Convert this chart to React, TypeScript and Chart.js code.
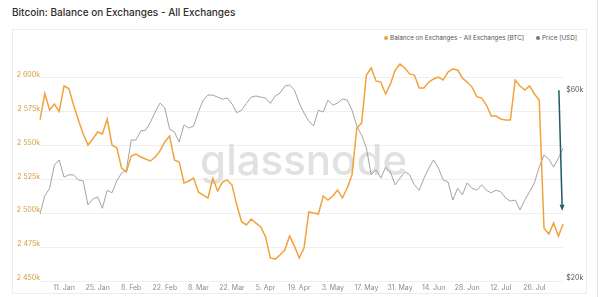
import React, { useEffect, useRef } from 'react';
import { Chart, registerables } from 'chart.js';

Chart.register(...registerables);

const FONT = "Inter, 'Noto Sans', Roboto, sans-serif";

const TITLE = 'Bitcoin: Balance on Exchanges - All Exchanges';
const SERIES_BALANCE = 'Balance on Exchanges - All Exchanges [BTC]';
const SERIES_PRICE = 'Price [USD]';
const WATERMARK = 'glassnode';

// samples every 2 days starting 2021-01-01
const START_YEAR = 2021;
const STEP_DAYS = 2;

const TICK_LABELS = [
  '11. Jan', '25. Jan', '8. Feb', '22. Feb', '8. Mar', '22. Mar', '5. Apr', '19. Apr',
  '3. May', '17. May', '31. May', '14. Jun', '28. Jun', '12. Jul', '26. Jul',
];
const FIRST_TICK_INDEX = 5;
const TICK_EVERY = 7;

// Balance on exchanges, thousands of BTC
const BALANCE_K = [
  2569.0, 2588.5, 2576.4, 2580.8, 2575.2, 2594.1, 2592.2, 2580.0, 2569.0, 2558.6,
  2550.5, 2554.9, 2560.1, 2558.6, 2569.7, 2550.5, 2548.3, 2533.5, 2530.5, 2542.4,
  2543.8, 2541.6, 2540.1, 2538.7, 2541.6, 2546.1, 2552.7, 2557.1, 2539.4, 2537.9,
  2522.4, 2523.9, 2526.1, 2515.8, 2513.5, 2511.3, 2525.9, 2516.5, 2523.1, 2524.6,
  2520.9, 2506.1, 2493.8, 2491.4, 2495.8, 2492.8, 2489.9, 2482.5, 2467.0, 2466.2,
  2469.2, 2472.9, 2483.2, 2475.8, 2467.0, 2474.4, 2501.0, 2500.2, 2499.5, 2512.8,
  2509.8, 2512.8, 2517.2, 2511.3, 2518.7, 2528.3, 2563.0, 2566.7, 2602.2, 2607.4,
  2597.8, 2597.0, 2588.2, 2595.6, 2605.9, 2610.3, 2607.4, 2603.0, 2602.2, 2592.6,
  2592.6, 2597.0, 2599.3, 2600.7, 2598.5, 2604.4, 2606.7, 2605.9, 2600.0, 2597.0,
  2593.3, 2586.2, 2585.2, 2580.0, 2571.9, 2571.9, 2569.7, 2569.0, 2569.0, 2598.5,
  2594.1, 2591.1, 2594.1, 2588.2, 2583.7, 2489.1, 2484.7, 2492.8, 2483.2, 2492.1,
];

// BTC price, thousands of USD
const PRICE_K = [
  29.6, 32.9, 34.4, 39.4, 40.6, 36.7, 37.2, 37.2, 36.1, 35.9,
  31.2, 32.3, 32.7, 30.6, 34.0, 33.5, 35.9, 37.6, 38.3, 45.6,
  45.6, 48.1, 48.3, 50.6, 53.7, 56.6, 55.0, 48.6, 47.8, 45.1,
  49.8, 48.9, 49.5, 53.8, 57.6, 59.3, 59.3, 58.6, 57.9, 58.3,
  56.3, 53.5, 54.3, 56.5, 58.6, 59.0, 58.6, 58.3, 56.5, 59.0,
  60.0, 62.5, 62.9, 61.1, 56.6, 53.4, 50.9, 49.5, 54.3, 53.7,
  57.6, 55.9, 56.6, 57.9, 57.6, 54.3, 49.5, 46.9, 43.5, 37.2,
  38.3, 36.5, 38.9, 37.8, 35.1, 36.5, 37.9, 37.2, 35.1, 34.0,
  36.5, 38.7, 40.6, 38.7, 36.1, 35.7, 32.1, 34.4, 33.1, 35.5,
  34.4, 34.0, 35.1, 34.0, 33.5, 34.0, 33.7, 32.5, 31.9, 32.1,
  30.3, 32.1, 33.7, 35.5, 38.9, 41.8, 40.8, 38.9, 41.0, 43.5,
];

const BALANCE_MIN = 2450000;
const BALANCE_MAX = 2613300;
const BALANCE_TICKS = [2450000, 2475000, 2500000, 2525000, 2550000, 2575000, 2600000];
const PRICE_MIN = 20000;
const PRICE_MAX = 72800;
const PRICE_TICKS = [20000, 60000];

// annotation arrow: [category index, balance value]
const ARROW_FROM = [108.1, 2591000];
const ARROW_TO = [108.8, 2502000];

const CATEGORIES = BALANCE_K.map((_, i) => {
  const d = new Date(Date.UTC(START_YEAR, 0, 1 + i * STEP_DAYS));
  return d.toISOString().slice(0, 10);
});

const ORANGE = '#f2a23a';
const GRAY = '#a3a3a3';
const ARROW_COLOR = '#1f5a66';

function fmtBalance(v: number) {
  const k = Math.round(v / 1000);
  const th = Math.floor(k / 1000);
  const rest = String(k % 1000).padStart(3, '0');
  return `${th} ${rest}k`;
}

const watermarkPlugin = {
  id: 'watermark',
  beforeDatasetsDraw(chart: any) {
    const { ctx, chartArea } = chart;
    ctx.save();
    ctx.font = `500 42px ${FONT}`;
    ctx.fillStyle = '#e1e1e1';
    ctx.textAlign = 'center';
    ctx.textBaseline = 'alphabetic';
    ctx.fillText(WATERMARK, (chartArea.left + chartArea.right) / 2 + 2, (chartArea.top + chartArea.bottom) / 2 + 4);
    ctx.restore();
  },
};

const arrowPlugin = {
  id: 'arrow',
  afterDatasetsDraw(chart: any) {
    const { ctx } = chart;
    const xs = chart.scales.x;
    const ys = chart.scales.yBalance;
    const x1 = xs.getPixelForValue(ARROW_FROM[0]);
    const y1 = ys.getPixelForValue(ARROW_FROM[1]);
    const x2 = xs.getPixelForValue(ARROW_TO[0]);
    const y2 = ys.getPixelForValue(ARROW_TO[1]);
    const ang = Math.atan2(y2 - y1, x2 - x1);
    const head = 6;
    const hw = 2.5;
    ctx.save();
    ctx.strokeStyle = ARROW_COLOR;
    ctx.fillStyle = ARROW_COLOR;
    ctx.lineWidth = 1.5;
    ctx.beginPath();
    ctx.moveTo(x1, y1);
    ctx.lineTo(x2 - Math.cos(ang) * head, y2 - Math.sin(ang) * head);
    ctx.stroke();
    ctx.beginPath();
    ctx.moveTo(x2, y2);
    ctx.lineTo(x2 - Math.cos(ang) * head - Math.sin(ang) * hw, y2 - Math.sin(ang) * head + Math.cos(ang) * hw);
    ctx.lineTo(x2 - Math.cos(ang) * head + Math.sin(ang) * hw, y2 - Math.sin(ang) * head - Math.cos(ang) * hw);
    ctx.closePath();
    ctx.fill();
    ctx.restore();
  },
};

function BalanceChart() {
  const ref = useRef<HTMLCanvasElement | null>(null);
  useEffect(() => {
    if (!ref.current) return;
    const chart = new Chart(ref.current, {
      type: 'line',
      data: {
        labels: CATEGORIES,
        datasets: [
          {
            label: SERIES_BALANCE,
            data: BALANCE_K.map((v) => v * 1000),
            borderColor: ORANGE,
            borderWidth: 1.5,
            pointRadius: 0,
            tension: 0,
            yAxisID: 'yBalance',
            order: 0,
          },
          {
            label: SERIES_PRICE,
            data: PRICE_K.map((v) => v * 1000),
            borderColor: GRAY,
            borderWidth: 1,
            pointRadius: 0,
            tension: 0,
            yAxisID: 'yPrice',
            order: 1,
          },
        ],
      },
      options: {
        responsive: false,
        maintainAspectRatio: false,
        animation: false,
        layout: { padding: { top: 30, left: 0, right: 0, bottom: 0 } },
        plugins: {
          legend: { display: false },
          tooltip: { enabled: false },
        },
        scales: {
          x: {
            type: 'category',
            offset: false,
            grid: { display: false, drawTicks: false },
            border: { display: false },
            ticks: {
              autoSkip: false,
              maxRotation: 0,
              minRotation: 0,
              padding: 3,
              color: '#8c8c8c',
              font: { size: 7, family: FONT },
              callback: (_v: any, i: number) => {
                if (i >= FIRST_TICK_INDEX && (i - FIRST_TICK_INDEX) % TICK_EVERY === 0) {
                  return TICK_LABELS[(i - FIRST_TICK_INDEX) / TICK_EVERY] ?? '';
                }
                return '';
              },
            },
            afterFit: (s: any) => { s.height = 14; },
          },
          yBalance: {
            type: 'linear',
            position: 'left',
            min: BALANCE_MIN,
            max: BALANCE_MAX,
            grid: { color: '#efefef', drawTicks: false, lineWidth: 1 },
            border: { display: false },
            afterBuildTicks: (s: any) => { s.ticks = BALANCE_TICKS.map((v) => ({ value: v })); },
            ticks: {
              padding: 0,
              labelOffset: -3,
              color: '#d39a3a',
              font: { size: 7, family: FONT },
              callback: (v: any) => fmtBalance(Number(v)),
            },
            afterFit: (s: any) => { s.width = 28; },
          },
          yPrice: {
            type: 'logarithmic',
            position: 'right',
            min: PRICE_MIN,
            max: PRICE_MAX,
            grid: { display: false, drawTicks: false },
            border: { display: false },
            afterBuildTicks: (s: any) => { s.ticks = PRICE_TICKS.map((v) => ({ value: v })); },
            ticks: {
              padding: 3,
              labelOffset: -3,
              color: '#555555',
              font: { size: 7, family: FONT },
              callback: (v: any) => '$' + Math.round(Number(v) / 1000) + 'k',
            },
            afterFit: (s: any) => { s.width = 24.8; },
          },
        },
      } as any,
      plugins: [watermarkPlugin, arrowPlugin],
    });
    return () => chart.destroy();
  }, []);
  return (
    <canvas
      ref={ref}
      width={576}
      height={265}
      style={{ position: 'absolute', left: 12, top: 30, width: 576, height: 265 }}
    />
  );
}

export default function App() {
  return (
    <div
      style={{
        position: 'absolute',
        left: 0,
        top: 0,
        width: 600,
        height: 297,
        background: '#ffffff',
        overflow: 'hidden',
        fontFamily: FONT,
      }}
    >
      <div
        style={{
          position: 'absolute',
          left: 12,
          top: 5,
          fontSize: 10,
          fontWeight: 500,
          color: '#2e2e2e',
          whiteSpace: 'nowrap',
          lineHeight: '14px',
        }}
      >
        {TITLE}
      </div>
      <div
        style={{
          position: 'absolute',
          left: 12,
          top: 29,
          width: 575,
          height: 265,
          border: '1px solid #ececec',
          boxSizing: 'border-box',
        }}
      />
      <div style={{ position: 'absolute', left: 597, top: 0, width: 1, height: 297, background: '#e6e6e6' }} />
      <div
        style={{
          position: 'absolute',
          right: 23,
          top: 33,
          display: 'flex',
          alignItems: 'center',
          gap: 12,
          fontSize: 6.3,
          lineHeight: '10px',
          color: '#555555',
          whiteSpace: 'nowrap',
        }}
      >
        <span style={{ display: 'flex', alignItems: 'center' }}>
          <span style={{ width: 4, height: 4, borderRadius: 2, background: ORANGE, marginRight: 2, display: 'inline-block' }} />
          {SERIES_BALANCE}
        </span>
        <span style={{ display: 'flex', alignItems: 'center' }}>
          <span style={{ width: 4, height: 4, borderRadius: 2, background: '#777777', marginRight: 2, display: 'inline-block' }} />
          {SERIES_PRICE}
        </span>
      </div>
      <BalanceChart />
    </div>
  );
}
